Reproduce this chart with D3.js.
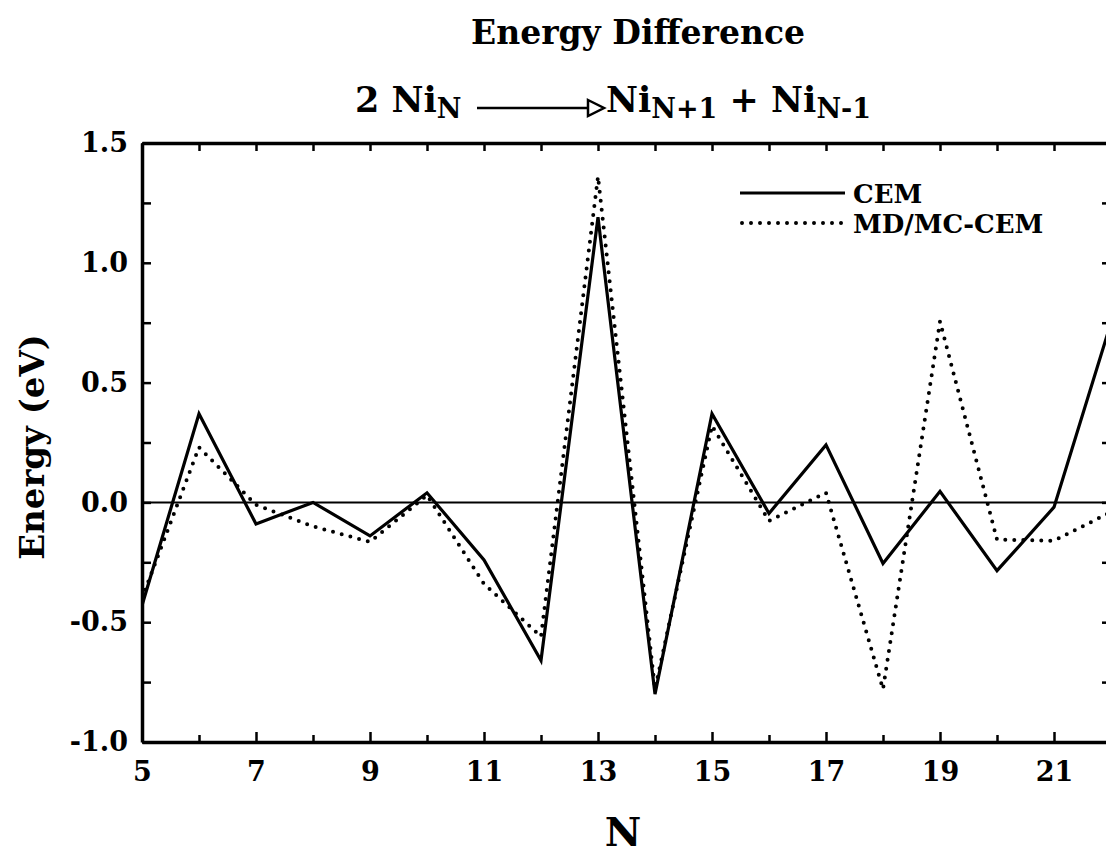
<!DOCTYPE html>
<html>
<head>
<meta charset="utf-8">
<script src="https://cdn.jsdelivr.net/npm/d3@7"></script>
<style>
  body { margin: 0; background: #fff; }
  svg text { font-family: "DejaVu Serif", serif; font-weight: bold; fill: #000; }
</style>
</head>
<body>
<svg id="chart" width="1106" height="858"></svg>
<script>
// Cluster size N and energy differences (eV) for 2 Ni_N -> Ni_N+1 + Ni_N-1
const clusterSizes = [5, 6, 7, 8, 9, 10, 11, 12, 13, 14, 15, 16, 17, 18, 19, 20, 21, 22];
const cemEnergy    = [-0.43, 0.37, -0.09, 0.00, -0.14, 0.04, -0.24, -0.66, 1.19, -0.80, 0.37, -0.046, 0.24, -0.255, 0.046, -0.285, -0.02, 0.75];
const mdmcEnergy   = [-0.40, 0.23, -0.01, -0.10, -0.165, 0.03, -0.34, -0.56, 1.36, -0.78, 0.32, -0.077, 0.04, -0.78, 0.755, -0.155, -0.16, -0.04];

const seriesNames = ["CEM", "MD/MC-CEM"];

const yTickValues = [-1, -0.5, 0, 0.5, 1, 1.5];
const yTickLabels = ["-1.0", "-0.5", "0.0", "0.5", "1.0", "1.5"];
const xTickValues = [5, 7, 9, 11, 13, 15, 17, 19, 21];
const xTickLabels = ["5", "7", "9", "11", "13", "15", "17", "19", "21"];

const svg = d3.select("#chart");

const plotLeft = 142, plotRight = 1111, plotTop = 143, plotBottom = 742;
const x = d3.scaleLinear().domain([5, 22]).range([plotLeft, plotRight]);
const y = d3.scaleLinear().domain([-1, 1.5]).range([plotBottom, plotTop]);

const yAll = d3.range(-1, 1.5001, 0.25);
const xAll = d3.range(5, 23, 1);

function styleAxis(g) {
  g.select(".domain").attr("stroke", "#000").attr("stroke-width", 3.5);
  g.selectAll(".tick line").attr("stroke", "#000").attr("stroke-width", 2.5);
  g.selectAll(".tick text").style("font-size", "27px");
}

// Left axis: ticks point into the plot
const yFmt = d => { const i = yTickValues.findIndex(v => Math.abs(v - d) < 1e-9); return i >= 0 ? yTickLabels[i] : ""; };
svg.append("g")
  .attr("transform", `translate(${plotLeft},0)`)
  .call(d3.axisLeft(y).tickValues(yAll).tickSize(-9).tickSizeOuter(0).tickPadding(14).tickFormat(yFmt))
  .call(styleAxis);

// Right axis (frame)
svg.append("g")
  .attr("transform", `translate(${plotRight},0)`)
  .call(d3.axisRight(y).tickValues(yAll).tickSize(-9).tickSizeOuter(0).tickFormat(""))
  .call(styleAxis);

// Bottom axis: odd N labelled, longer ticks
const xFmt = d => { const i = xTickValues.indexOf(d); return i >= 0 ? xTickLabels[i] : ""; };
const xAxisG = svg.append("g")
  .attr("transform", `translate(0,${plotBottom})`)
  .call(d3.axisBottom(x).tickValues(xAll).tickSize(-10).tickSizeOuter(0).tickPadding(20).tickFormat(xFmt))
  .call(styleAxis);
xAxisG.selectAll(".tick").filter(d => xTickValues.indexOf(d) < 0).select("line").attr("y2", -7);

// Top axis (frame)
svg.append("g")
  .attr("transform", `translate(0,${plotTop})`)
  .call(d3.axisTop(x).tickValues(xAll).tickSize(-8).tickSizeOuter(0).tickFormat(""))
  .call(styleAxis);

// Zero reference line
svg.append("line")
  .attr("x1", x(5)).attr("x2", x(22))
  .attr("y1", y(0)).attr("y2", y(0))
  .attr("stroke", "#000").attr("stroke-width", 2);

// Series lines
svg.append("clipPath").attr("id", "plotClip")
  .append("rect").attr("x", plotLeft).attr("y", plotTop)
  .attr("width", plotRight - plotLeft).attr("height", plotBottom - plotTop);

const line = d3.line().x(d => x(d[0])).y(d => y(d[1]));
const cemPts = clusterSizes.map((n, i) => [n, cemEnergy[i]]);
const mdmcPts = clusterSizes.map((n, i) => [n, mdmcEnergy[i]]);

const plot = svg.append("g").attr("clip-path", "url(#plotClip)");
plot.append("path").datum(mdmcPts)
  .attr("d", line).attr("fill", "none").attr("stroke", "#000")
  .attr("stroke-width", 4).attr("stroke-linecap", "round").attr("stroke-dasharray", "0,9");
plot.append("path").datum(cemPts)
  .attr("d", line).attr("fill", "none").attr("stroke", "#000")
  .attr("stroke-width", 3.2).attr("stroke-linejoin", "miter");

// Legend
const legend = svg.append("g");
legend.append("line").attr("x1", 740).attr("x2", 845).attr("y1", 193).attr("y2", 193)
  .attr("stroke", "#000").attr("stroke-width", 3);
legend.append("line").attr("x1", 742).attr("x2", 845).attr("y1", 223).attr("y2", 223)
  .attr("stroke", "#000").attr("stroke-width", 4).attr("stroke-linecap", "round").attr("stroke-dasharray", "0,9");
legend.append("text").attr("x", 853).attr("y", 203).style("font-size", "26px").text(seriesNames[0]);
legend.append("text").attr("x", 853).attr("y", 233).style("font-size", "26px").text(seriesNames[1]);

// Titles
svg.append("text").attr("x", 638).attr("y", 44).attr("text-anchor", "middle")
  .style("font-size", "33px").text("Energy Difference");

const t1 = svg.append("text").attr("x", 355).attr("y", 112).style("font-size", "35px");
t1.append("tspan").text("2 Ni");
t1.append("tspan").attr("dy", 6).style("font-size", "27px").text("N");

// Reaction arrow with open head
svg.append("line").attr("x1", 477).attr("x2", 588).attr("y1", 108).attr("y2", 108)
  .attr("stroke", "#000").attr("stroke-width", 2.5);
svg.append("path").attr("d", "M588,100 L604,108 L588,116 Z")
  .attr("fill", "#fff").attr("stroke", "#000").attr("stroke-width", 2.5);

const t2 = svg.append("text").attr("x", 606).attr("y", 112).style("font-size", "35px");
t2.append("tspan").text("Ni");
t2.append("tspan").attr("dy", 6).style("font-size", "27px").text("N+1");
t2.append("tspan").attr("dy", -6).text(" + Ni");
t2.append("tspan").attr("dy", 6).style("font-size", "27px").text("N-1");

// Axis titles
svg.append("text").attr("x", 623).attr("y", 846).attr("text-anchor", "middle")
  .style("font-size", "40px").text("N");
svg.append("text").attr("transform", "translate(44,447) rotate(-90)").attr("text-anchor", "middle")
  .style("font-size", "34px").text("Energy (eV)");
</script>
</body>
</html>
